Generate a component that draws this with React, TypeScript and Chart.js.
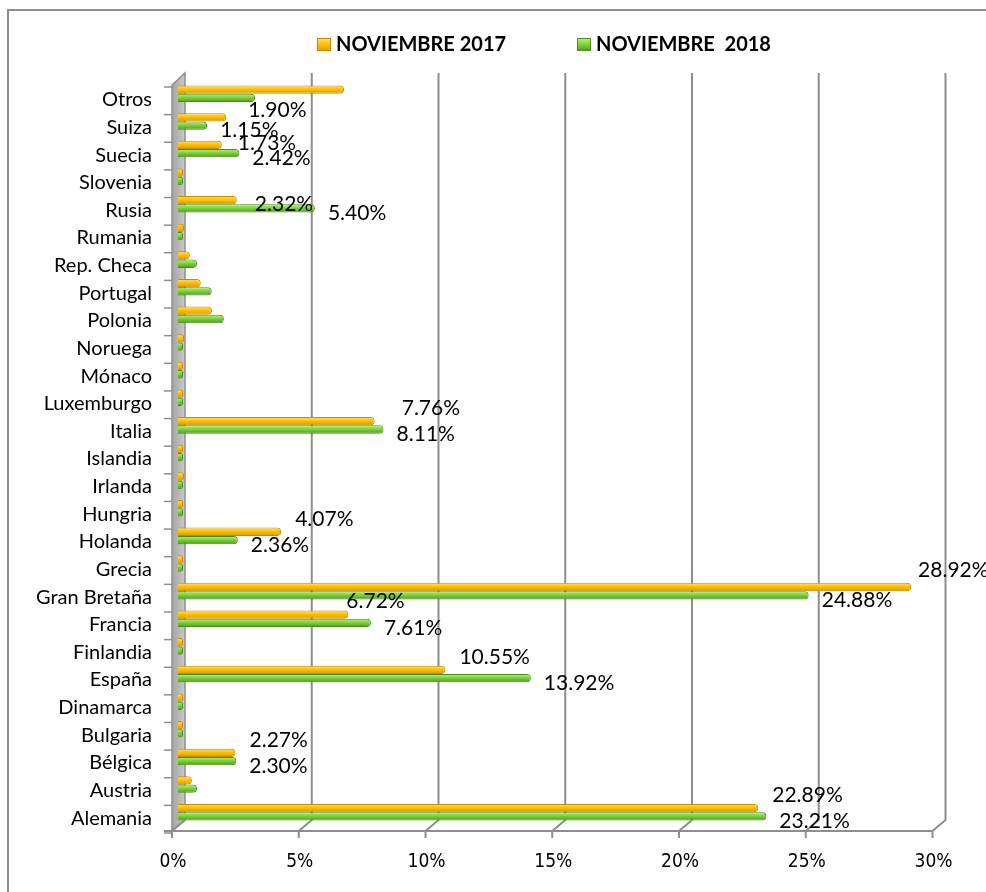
import React, { useEffect, useRef } from 'react';
import { Chart, registerables } from 'chart.js';

Chart.register(...registerables);

const categories = [
  'Otros', 'Suiza', 'Suecia', 'Slovenia', 'Rusia', 'Rumania', 'Rep. Checa', 'Portugal', 'Polonia',
  'Noruega', 'Mónaco', 'Luxemburgo', 'Italia', 'Islandia', 'Irlanda', 'Hungria', 'Holanda', 'Grecia',
  'Gran Bretaña', 'Francia', 'Finlandia', 'España', 'Dinamarca', 'Bulgaria', 'Bélgica', 'Austria', 'Alemania',
];
const series2017 = [
  6.55, 1.90, 1.73, 0.02, 2.32, 0.24, 0.47, 0.90, 1.34, 0.24, 0.02, 0.02, 7.76, 0.02, 0.24,
  0.02, 4.07, 0.15, 28.92, 6.72, 0.05, 10.55, 0.02, 0.02, 2.27, 0.55, 22.89,
];
const series2018 = [
  3.04, 1.15, 2.42, 0.02, 5.40, 0.15, 0.75, 1.33, 1.81, 0.10, 0.02, 0.02, 8.11, 0.02, 0.15,
  0.05, 2.36, 0.02, 24.88, 7.61, 0.15, 13.92, 0.02, 0.02, 2.30, 0.75, 23.21,
];
const labelled2017 = [1, 2, 4, 12, 16, 18, 19, 21, 24, 26];
const labelled2018 = [1, 2, 4, 12, 16, 18, 19, 21, 24, 26];
const seriesNames = ['NOVIEMBRE 2017', 'NOVIEMBRE  2018'];
const xTickValues = [0, 5, 10, 15, 20, 25, 30];

const FONT = 'Lato, "Open Sans", sans-serif';
const NARROW = '"Liberation Sans Narrow", "DejaVu Sans Condensed", Lato, sans-serif';
const GRID = '#8e8e8e';

const palette = [
  { light: '#FFE27A', base: '#FFC000', dark: '#D89A00', border: '#C78C00' },
  { light: '#B9F27E', base: '#7ED33A', dark: '#4F9A1E', border: '#4A8A1E' },
];

// label placement nudges (pixels) for labels the original moved by hand, keyed "dataset:index"
const labelNudge: Record<string, [number, number]> = {
  '0:1': [22, -7],
  '0:2': [16, -2],
  '0:4': [18, 4],
  '0:12': [27, -13],
  '0:19': [-2, -13],
  '0:18': [7, -17],
};

function barFill(di: number) {
  return (c: any) => {
    const ch = c.chart;
    const ys = ch.scales && ch.scales.y;
    const p = palette[di];
    if (!ys || c.dataIndex === undefined || !ch.chartArea) return p.base;
    const h = (ch.chartArea.bottom - ch.chartArea.top) / categories.length;
    const half = (h * 0.6) / 2;
    const center = ys.getPixelForValue(c.dataIndex) + (di === 0 ? -half / 2 : half / 2);
    const g = ch.ctx.createLinearGradient(0, center - half / 2, 0, center + half / 2);
    g.addColorStop(0, p.light);
    g.addColorStop(0.45, p.base);
    g.addColorStop(1, p.dark);
    return g;
  };
}

const framePlugin = {
  id: 'frame3d',
  beforeDatasetsDraw(chart: any) {
    const { ctx, chartArea } = chart;
    const xs = chart.scales.x;
    const { top, bottom } = chartArea;
    const backBottom = bottom - 6;
    const frontBottom = bottom + 5;
    const backDx = 7;
    const frontDx = -6;
    ctx.save();
    const x0 = xs.getPixelForValue(0);
    const wg = ctx.createLinearGradient(x0 + frontDx, 0, x0 + backDx, 0);
    wg.addColorStop(0, '#a3a3a3');
    wg.addColorStop(1, '#c9c9c9');
    ctx.beginPath();
    ctx.moveTo(x0 + backDx, top - 7);
    ctx.lineTo(x0 + backDx, backBottom);
    ctx.lineTo(x0 + frontDx, frontBottom);
    ctx.lineTo(x0 + frontDx, top + 5);
    ctx.closePath();
    ctx.fillStyle = wg;
    ctx.fill();
    ctx.strokeStyle = GRID;
    ctx.lineWidth = 1.5;
    ctx.stroke();
    ctx.lineWidth = 2;
    ctx.strokeStyle = GRID;
    xTickValues.forEach((v) => {
      const px = xs.getPixelForValue(v);
      ctx.beginPath();
      if (v > 0) {
        ctx.moveTo(px + backDx, top - 7);
        ctx.lineTo(px + backDx, backBottom);
      } else {
        ctx.moveTo(px + backDx, backBottom);
      }
      ctx.lineTo(px + frontDx, frontBottom);
      ctx.stroke();
      ctx.beginPath();
      ctx.moveTo(px + frontDx, frontBottom);
      ctx.lineTo(px + frontDx, frontBottom + 7);
      ctx.stroke();
    });
    ctx.beginPath();
    ctx.moveTo(x0 + frontDx - 8, frontBottom);
    ctx.lineTo(xs.getPixelForValue(30) + frontDx, frontBottom);
    ctx.stroke();
    const h = (bottom - top) / categories.length;
    ctx.lineWidth = 1.5;
    for (let i = 0; i <= categories.length; i++) {
      const y = top + i * h + 7;
      ctx.beginPath();
      ctx.moveTo(x0 + frontDx - 8, y);
      ctx.lineTo(x0 + frontDx, y);
      ctx.stroke();
    }
    ctx.restore();
  },
  afterDatasetsDraw(chart: any) {
    const { ctx } = chart;
    ctx.save();
    ctx.fillStyle = '#000';
    ctx.font = '21px ' + FONT;
    ctx.textAlign = 'left';
    ctx.textBaseline = 'middle';
    const sets = [
      { idx: labelled2017, data: series2017, dx: 14, dy: -13 },
      { idx: labelled2018, data: series2018, dx: 13, dy: 5 },
    ];
    sets.forEach((s, di) => {
      const meta = chart.getDatasetMeta(di);
      s.idx.forEach((i) => {
        const el = meta.data[i];
        if (!el) return;
        const n = labelNudge[di + ':' + i] || [s.dx, s.dy];
        ctx.fillText(s.data[i].toFixed(2) + '%', el.x + n[0], el.y + n[1]);
      });
    });
    ctx.restore();
  },
  afterDraw(chart: any) {
    const { ctx } = chart;
    ctx.save();
    const items = [
      { x: 317, name: seriesNames[0], c: palette[0] },
      { x: 577, name: seriesNames[1], c: palette[1] },
    ];
    ctx.font = 'bold 20px ' + FONT;
    ctx.textBaseline = 'middle';
    ctx.textAlign = 'left';
    items.forEach((it) => {
      const g = ctx.createLinearGradient(0, 38, 0, 51);
      g.addColorStop(0, it.c.light);
      g.addColorStop(0.5, it.c.base);
      g.addColorStop(1, it.c.dark);
      ctx.fillStyle = g;
      ctx.fillRect(it.x, 38, 14, 13);
      ctx.strokeStyle = it.c.border;
      ctx.lineWidth = 1;
      ctx.strokeRect(it.x + 0.5, 38.5, 13, 12);
      ctx.fillStyle = '#000';
      ctx.fillText(it.name, it.x + 19, 44.5);
    });
    ctx.restore();
  },
};

export default function App() {
  const ref = useRef<HTMLCanvasElement | null>(null);
  useEffect(() => {
    if (!ref.current) return;
    const chart = new Chart(ref.current, {
      type: 'bar',
      data: {
        labels: categories,
        datasets: [
          {
            label: seriesNames[0],
            data: series2017,
            backgroundColor: barFill(0),
            borderColor: palette[0].border,
            borderWidth: 1,
            borderRadius: 4,
            borderSkipped: 'start',
            categoryPercentage: 0.6,
            barPercentage: 1,
            minBarLength: 5,
          },
          {
            label: seriesNames[1],
            data: series2018,
            backgroundColor: barFill(1),
            borderColor: palette[1].border,
            borderWidth: 1,
            borderRadius: 4,
            borderSkipped: 'start',
            categoryPercentage: 0.6,
            barPercentage: 1,
            minBarLength: 5,
          },
        ],
      },
      options: {
        indexAxis: 'y',
        responsive: false,
        animation: false,
        devicePixelRatio: 1,
        layout: { padding: { top: 80, right: 47.5, left: 0, bottom: 0 } },
        plugins: {
          legend: { display: false },
          tooltip: { enabled: false },
        },
        scales: {
          x: {
            type: 'linear',
            min: 0,
            max: 30,
            grid: { display: false, drawTicks: false },
            border: { display: false },
            afterFit: (s: any) => { s.height = 66; },
            afterBuildTicks: (s: any) => { s.ticks = xTickValues.map((v) => ({ value: v })); },
            ticks: {
              callback: (v: any) => v + '%',
              font: { family: NARROW, size: 19 },
              color: '#000',
              padding: 25,
              labelOffset: -5,
              maxRotation: 0,
            },
          },
          y: {
            type: 'category',
            grid: { display: false, drawTicks: false },
            border: { display: false },
            afterFit: (s: any) => { s.width = 178; },
            ticks: {
              font: { family: FONT, size: 20 },
              color: '#000',
              padding: 26,
              labelOffset: 6,
              autoSkip: false,
            },
          },
        },
      },
      plugins: [framePlugin],
    });
    return () => chart.destroy();
  }, []);
  return (
    <>
      <div
        style={{
          position: 'absolute', left: 7, top: 9, width: 979, height: 883, boxSizing: 'border-box',
          borderTop: '2px solid #8c8c8c', borderLeft: '2px solid #8c8c8c',
        }}
      />
      <canvas
        ref={ref}
        width={986}
        height={892}
        style={{ position: 'absolute', left: 0, top: 0, width: 986, height: 892 }}
      />
    </>
  );
}
